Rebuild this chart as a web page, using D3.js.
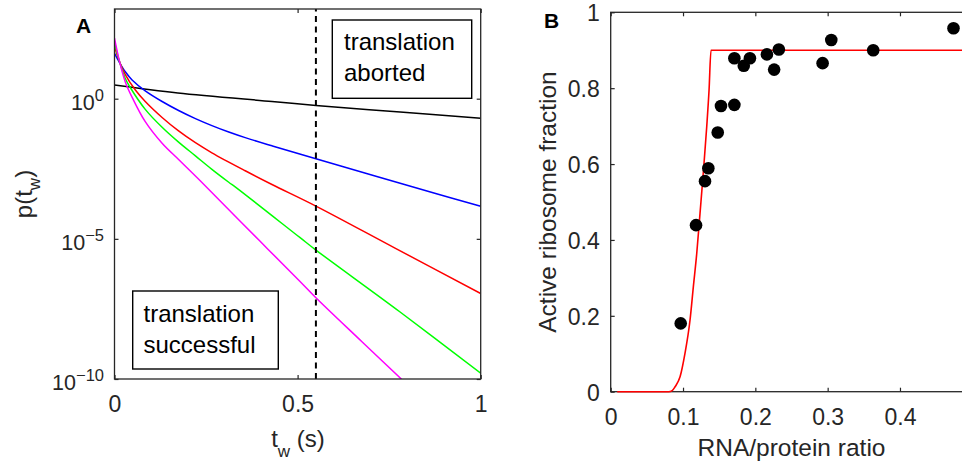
<!DOCTYPE html>
<html><head><meta charset="utf-8">
<script src="https://cdn.jsdelivr.net/npm/d3@7"></script>
<style>
html,body{margin:0;padding:0;background:#fff;overflow:hidden;}
svg{display:block;font-family:"Liberation Sans",Arial,Helvetica,sans-serif;}
</style></head>
<body><svg id="c" width="962" height="466"></svg>
<script>
// ---------- Panel A data: [t_w (s), log10 p(t_w)] ----------
const pBlack   = [[0,0.489],[0.173,0.204],[0.43,-0.10],[0.55,-0.243],[0.78,-0.475],[1,-0.70]];
const pBlue    = [[0,1.62],[0.0115,1.34],[0.0295,0.96],[0.048,0.67],[0.084,0.28],[0.13,-0.10],[0.175,-0.42],[0.221,-0.71],[0.266,-0.96],[0.312,-1.19],[0.357,-1.39],[0.43,-1.68],[0.55,-2.14],[0.884,-3.41],[1,-3.84]];
const pRed     = [[0,1.857],[0.0115,1.40],[0.0295,0.86],[0.057,0.31],[0.084,-0.10],[0.13,-0.67],[0.175,-1.15],[0.221,-1.57],[0.266,-1.93],[0.357,-2.57],[0.43,-3.06],[0.55,-3.83],[0.766,-5.33],[1,-6.95]];
const pGreen   = [[0,2.02],[0.0115,1.42],[0.0295,0.72],[0.043,0.40],[0.084,-0.38],[0.13,-1.02],[0.175,-1.55],[0.221,-2.04],[0.266,-2.52],[0.312,-2.98],[0.334,-3.19],[0.506,-4.95],[0.55,-5.40],[0.779,-7.60],[1,-9.79]];
const pMagenta = [[0,2.16],[0.0115,1.45],[0.0295,0.60],[0.05,0.0],[0.084,-0.82],[0.13,-1.59],[0.175,-2.17],[0.221,-2.76],[0.257,-3.23],[0.397,-5.08],[0.506,-6.51],[0.55,-7.10],[0.675,-8.66],[0.784,-10.01]];
const curveColors = ["#000000","#0000ff","#ff0000","#00ff00","#ff00ff"];
const cutoffT = 0.55;
const ticksXA = [0, 0.5, 1];
const ticksYAexp = [0, -5, -10];
const labelAborted = ["translation","aborted"];
const labelSuccess = ["translation","successful"];

// ---------- Panel B data ----------
const ratio      = [0.0968,0.118,0.1304,0.135,0.148,0.1525,0.171,0.171,0.184,0.1925,0.216,0.226,0.2325,0.293,0.305,0.363,0.474];
const activeFrac = [0.180,0.439,0.555,0.589,0.683,0.753,0.756,0.879,0.859,0.879,0.889,0.849,0.902,0.866,0.927,0.900,0.958];
const fitX = [0.009,0.08,0.085,0.089,0.096,0.1027,0.1097,0.1143,0.119,0.1235,0.128,0.1328,0.136,0.1387,0.5];
const fitY = [0,0,0.003,0.013,0.040,0.101,0.189,0.277,0.365,0.470,0.576,0.699,0.795,0.9,0.9];
const ticksXB = [0,0.1,0.2,0.3,0.4];
const ticksYB = [0,0.2,0.4,0.6,0.8,1];

const AX = "#262626";
const svg = d3.select("#c");

// ================= Panel A =================
const xA = d3.scaleLinear().domain([0,1]).range([114.5,480.7]);
const yA = d3.scaleLog().domain([1e-10, Math.pow(10,3.2)]).range([379,9]);
const gA = svg.append("g");
gA.append("clipPath").attr("id","clipA").append("rect")
  .attr("x",xA(0)).attr("y",yA.range()[1]).attr("width",xA(1)-xA(0)).attr("height",yA.range()[0]-yA.range()[1]);

const lineA = d3.line().x(d=>xA(d[0])).y(d=>yA(Math.pow(10,d[1]))).curve(d3.curveCatmullRom.alpha(0.5));
const curvesA = [pBlack,pBlue,pRed,pGreen,pMagenta];
const cg = gA.append("g").attr("clip-path","url(#clipA)");
curvesA.forEach((c,i)=>{
  cg.append("path").attr("d",lineA(c)).attr("fill","none").attr("stroke",curveColors[i]).attr("stroke-width",1.5);
});
cg.append("line").attr("x1",xA(cutoffT)).attr("x2",xA(cutoffT)).attr("y1",yA.range()[0]).attr("y2",yA.range()[1])
  .attr("stroke","#000").attr("stroke-width",2).attr("stroke-dasharray","6,4.5");

function styleAxis(g){
  g.select(".domain").remove();
  g.selectAll(".tick line").attr("stroke",AX).attr("stroke-width",1.2);
  g.selectAll("text").attr("fill",AX).style("font-size","23px").attr("font-family",null);
}
const axBA = d3.axisBottom(xA).tickValues(ticksXA).tickSizeInner(-4).tickSizeOuter(0).tickFormat(d3.format("~g"));
const axTA = d3.axisTop(xA).tickValues(ticksXA).tickSizeInner(-4).tickSizeOuter(0).tickFormat("");
const yTickVals = ticksYAexp.map(e=>Math.pow(10,e));
const axLA = d3.axisLeft(yA).tickValues(yTickVals).tickSizeInner(-4).tickSizeOuter(0).tickFormat("");
const axRA = d3.axisRight(yA).tickValues(yTickVals).tickSizeInner(-4).tickSizeOuter(0).tickFormat("");
gA.append("g").attr("transform",`translate(0,${yA.range()[0]})`).call(axBA).call(styleAxis)
  .selectAll("text").attr("dy",null).attr("y",33);
gA.append("g").attr("transform",`translate(0,${yA.range()[1]})`).call(axTA).call(styleAxis);
gA.append("g").attr("transform",`translate(${xA(0)},0)`).call(axLA).call(styleAxis);
gA.append("g").attr("transform",`translate(${xA(1)},0)`).call(axRA).call(styleAxis);
ticksYAexp.forEach(e=>{
  const t = gA.append("text").attr("x",104).attr("y",yA(Math.pow(10,e))+11).attr("text-anchor","end")
    .attr("fill",AX).style("font-size","21.5px");
  t.append("tspan").text("10");
  t.append("tspan").attr("dy",-9).style("font-size","16.5px").text(e===0?"0":"\u2212"+Math.abs(e));
});
gA.append("rect").attr("x",xA(0)).attr("y",yA.range()[1]).attr("width",xA(1)-xA(0)).attr("height",yA.range()[0]-yA.range()[1])
  .attr("fill","none").attr("stroke",AX).attr("stroke-width",1.3);

function box(x,y,w,h,lines,tx,ty){
  gA.append("rect").attr("x",x).attr("y",y).attr("width",w).attr("height",h).attr("fill","#fff").attr("stroke","#000").attr("stroke-width",1.4);
  lines.forEach((s,i)=>gA.append("text").attr("x",tx).attr("y",ty+i*31).attr("fill","#000").style("font-size","24px").text(s));
}
box(332.3,20,139.4,78.3,labelAborted,344,50);
box(132.7,291,145.6,78,labelSuccess,143.5,321.7);

const xlA = gA.append("text").attr("x",298).attr("y",446.7).attr("text-anchor","middle").attr("fill",AX).style("font-size","24px");
xlA.append("tspan").text("t");
xlA.append("tspan").attr("dy",10).style("font-size","17px").text("w");
xlA.append("tspan").attr("dy",-10).text(" (s)");
const ylA = gA.append("text").attr("transform",`translate(32,${(yA.range()[0]+yA.range()[1])/2}) rotate(-90)`)
  .attr("text-anchor","middle").attr("fill",AX).style("font-size","24px");
ylA.append("tspan").text("p(t");
ylA.append("tspan").attr("dy",8).style("font-size","17px").text("w");
ylA.append("tspan").attr("dy",-8).text(")");
gA.append("text").attr("x",76).attr("y",33).attr("font-weight","bold").style("font-size","21px").attr("fill","#000").text("A");

// ================= Panel B =================
const xB = d3.scaleLinear().domain([0,0.5]).range([610.7,972.3]);
const yB = d3.scaleLinear().domain([0,1]).range([391.7,12.3]);
const gB = svg.append("g");
const axBB = d3.axisBottom(xB).tickValues(ticksXB).tickSizeInner(-4).tickSizeOuter(0).tickFormat(d3.format("~g"));
const axTB = d3.axisTop(xB).tickValues(ticksXB).tickSizeInner(-4).tickSizeOuter(0).tickFormat("");
const axLB = d3.axisLeft(yB).tickValues(ticksYB).tickSizeInner(-4).tickSizeOuter(0).tickFormat(d3.format("~g"));
gB.append("g").attr("transform",`translate(0,${yB(0)})`).call(axBB).call(styleAxis).selectAll("text").attr("dy",null).attr("y",33.5);
gB.append("g").attr("transform",`translate(0,${yB(1)})`).call(axTB).call(styleAxis);
gB.append("g").attr("transform",`translate(${xB(0)},0)`).call(axLB).call(styleAxis).selectAll("text").attr("dy",null).attr("x",-11).attr("y",8.5);
gB.append("rect").attr("x",xB(0)).attr("y",yB(1)).attr("width",xB(0.5)-xB(0)).attr("height",yB(0)-yB(1))
  .attr("fill","none").attr("stroke",AX).attr("stroke-width",1.3);

const fitPts = fitX.map((x,i)=>[x,fitY[i]]);
gB.append("path").attr("d",d3.line().x(d=>xB(d[0])).y(d=>yB(d[1])).curve(d3.curveMonotoneX)(fitPts))
  .attr("fill","none").attr("stroke","#ff0000").attr("stroke-width",1.6);
gB.selectAll("circle.pt").data(ratio.map((r,i)=>[r,activeFrac[i]])).join("circle").attr("class","pt")
  .attr("cx",d=>xB(d[0])).attr("cy",d=>yB(d[1])).attr("r",6.3).attr("fill","#000");

gB.append("text").attr("x",791.5).attr("y",456).attr("text-anchor","middle").attr("fill",AX).style("font-size","24.5px").text("RNA/protein ratio");
gB.append("text").attr("transform",`translate(556,${(yB(0)+yB(1))/2}) rotate(-90)`).attr("text-anchor","middle")
  .attr("fill",AX).style("font-size","24.5px").text("Active ribosome fraction");
gB.append("text").attr("x",544).attr("y",27.5).attr("font-weight","bold").style("font-size","21px").attr("fill","#000").text("B");
</script></body></html>
